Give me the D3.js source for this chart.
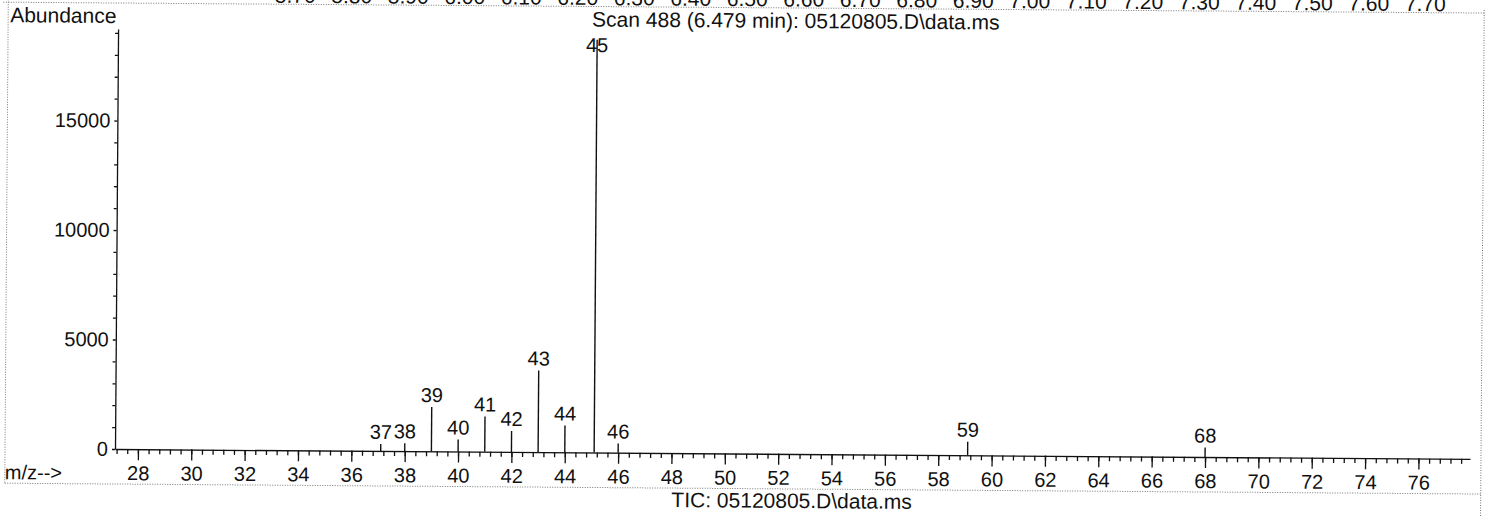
<!DOCTYPE html>
<html>
<head>
<meta charset="utf-8">
<script src="https://cdn.jsdelivr.net/npm/d3@7"></script>
<style>
  body { margin: 0; background: #fff; }
  svg { display: block; font-family: "Liberation Sans", Arial, sans-serif; }
</style>
</head>
<body>
<script>
// scan 488 peaks
var mz = [37.1, 38, 39, 40, 41, 42, 43, 44, 45.1, 46, 59.1, 68];
var abundance = [320, 360, 2020, 550, 1610, 960, 3730, 1220, 18850, 420, 620, 430];

// axis labels
var xTickLabels = [28, 30, 32, 34, 36, 38, 40, 42, 44, 46, 48, 50, 52, 54, 56, 58, 60, 62, 64, 66, 68, 70, 72, 74, 76];
var yTickLabels = [0, 5000, 10000, 15000];
// time axis of the TIC above (only its bottom edge shows)
var timeLabels = ["5.70", "5.80", "5.90", "6.00", "6.10", "6.20", "6.30", "6.40", "6.50", "6.60", "6.70",
                  "6.80", "6.90", "7.00", "7.10", "7.20", "7.30", "7.40", "7.50", "7.60", "7.70"];

var width = 1494, height = 517;

var svg = d3.select("body").append("svg")
    .attr("width", width)
    .attr("height", height);

// the scan is slightly tilted
var g = svg.append("g").attr("transform", "rotate(0.42,115,449)");

var xScale = d3.scaleLinear().domain([27.14, 77.93]).range([115, 1470]);
var yScale = d3.scaleLinear().domain([0, 19180]).range([449, 29]);
var tScale = d3.scaleLinear().domain([6.0, 7.7]).range([461.5, 1422]);

// frame (dotted)
var dot = function(x1, y1, x2, y2) {
  g.append("line")
    .attr("x1", x1).attr("y1", y1).attr("x2", x2).attr("y2", y2)
    .attr("stroke", "#777").attr("stroke-width", 1)
    .attr("stroke-dasharray", "1,1.5");
};
dot(0, 3, 1481, 3);
dot(5, 0, 5, 484);
dot(5, 484, 1481, 484);
dot(1481, 0, 1481, 517);

// cut-off time labels
g.selectAll(".tlab")
  .data(timeLabels)
  .enter().append("text")
  .attr("class", "tlab")
  .attr("x", function(d) { return tScale(+d); })
  .attr("y", 1.5)
  .attr("text-anchor", "middle")
  .style("font-size", "21px")
  .attr("fill", "#111")
  .text(function(d) { return d; });

// titles
g.append("text").attr("x", 7).attr("y", 23)
  .style("font-size", "21px").attr("fill", "#111").text("Abundance");
g.append("text").attr("x", 589).attr("y", 23)
  .style("font-size", "21px").attr("fill", "#111").text("Scan 488 (6.479 min): 05120805.D\\data.ms");
g.append("text").attr("x", 5).attr("y", 480)
  .style("font-size", "20px").attr("fill", "#111").text("m/z-->");
g.append("text").attr("x", 792).attr("y", 503).attr("text-anchor", "middle")
  .style("font-size", "21px").attr("fill", "#111").text("TIC: 05120805.D\\data.ms");

// x axis: minor ticks every 0.4
var minorX = d3.range(27.2, 77.8, 0.4);
g.append("g")
  .attr("class", "x-minor")
  .attr("transform", "translate(0," + yScale(0) + ")")
  .call(d3.axisBottom(xScale).tickValues(minorX).tickSize(5).tickFormat(""))
  .call(function(a) { a.select(".domain").remove(); });

var xAxis = g.append("g")
  .attr("class", "x-axis")
  .attr("transform", "translate(0," + yScale(0) + ")")
  .call(d3.axisBottom(xScale).tickValues(xTickLabels).tickSize(11).tickSizeOuter(0));
xAxis.selectAll("text")
  .attr("y", 31).attr("dy", 0)
  .style("font-size", "20px");

// y axis: small ticks every 1000
var yAxis = g.append("g")
  .attr("class", "y-axis")
  .attr("transform", "translate(" + xScale.range()[0] + ",0)")
  .call(d3.axisLeft(yScale)
    .tickValues(d3.range(0, 19001, 1000))
    .tickSize(3).tickSizeOuter(0).tickPadding(4)
    .tickFormat(function(d) { return yTickLabels.indexOf(d) >= 0 ? d : ""; }));
yAxis.selectAll("text").style("font-size", "20px");

svg.selectAll(".domain, .tick line").attr("stroke", "#111").attr("stroke-width", 1.3);
svg.selectAll(".tick text").attr("fill", "#111").style("font-family", "'Liberation Sans', Arial, sans-serif");

// peaks
var peaks = mz.map(function(m, i) { return {mz: m, v: abundance[i]}; });

g.selectAll(".peak")
  .data(peaks)
  .enter().append("line")
  .attr("class", "peak")
  .attr("x1", function(d) { return xScale(d.mz); })
  .attr("x2", function(d) { return xScale(d.mz); })
  .attr("y1", yScale(0))
  .attr("y2", function(d) { return yScale(d.v); })
  .attr("stroke", "#111")
  .attr("stroke-width", 1.4);

g.selectAll(".plab")
  .data(peaks)
  .enter().append("text")
  .attr("class", "plab")
  .attr("x", function(d) { return xScale(d.mz); })
  .attr("y", function(d) { return Math.max(yScale(d.v) - 5, 48.5); })
  .attr("text-anchor", "middle")
  .style("font-size", "20px")
  .attr("fill", "#111")
  .text(function(d) { return Math.round(d.mz); });
</script>
</body>
</html>
